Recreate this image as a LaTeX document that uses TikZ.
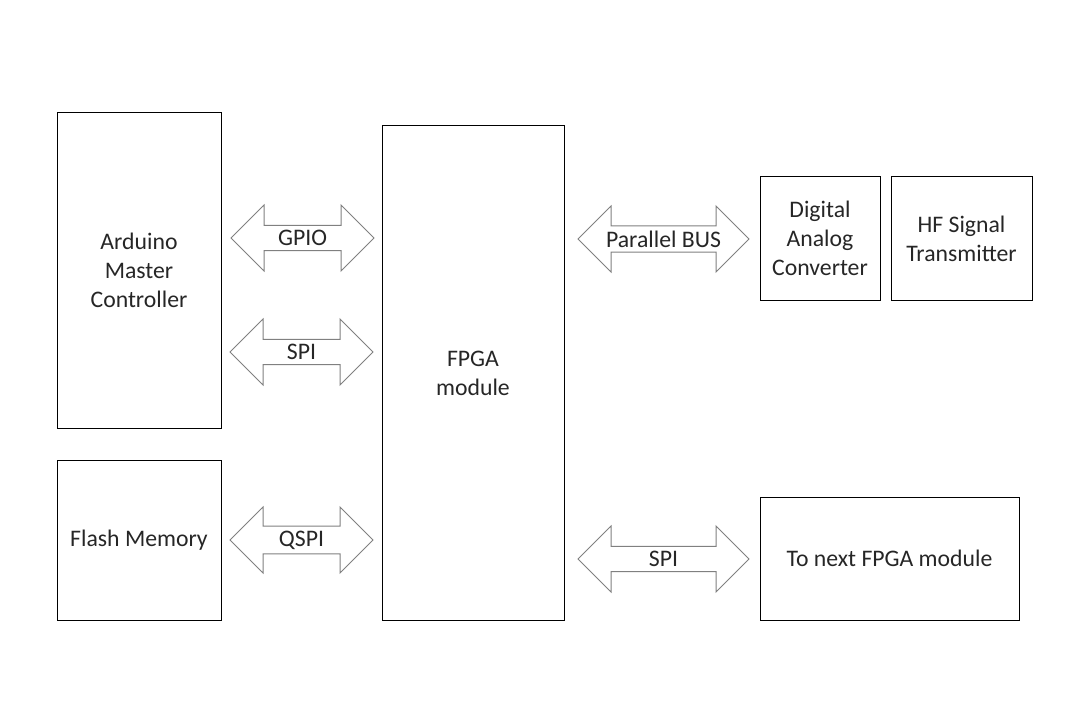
\documentclass[tikz,border=0pt]{standalone}
\usepackage{fontspec}
\setmainfont{Carlito}
\usetikzlibrary{shapes.arrows}
\begin{document}
\begin{tikzpicture}[x=0.75pt,y=-0.75pt,
        block/.style={draw, rectangle, line width=0.75pt, align=center, inner sep=2pt},
        link/.style={draw=gray, fill=white, double arrow, line width=0.75pt,
            minimum width=49.5pt, double arrow head extend=11.6pt, inner sep=1pt},
        font=\fontsize{17.8pt}{21.75pt}\selectfont, text=black!85]
        \useasboundingbox (0,0) rectangle (1066,720);

        \node (ard) [block, minimum width=123pt, minimum height=236.25pt] at (139,270.5) {Arduino\\Master\\Controller};
        \node (flash) [block, minimum width=123pt, minimum height=120pt] at (139,540) {Flash Memory};
        \node (fpga) [block, minimum width=136.5pt, minimum height=370.5pt] at (473,373) {FPGA\\module};
        \node (dac) [block, minimum width=90pt, minimum height=92.25pt] at (820,238.5) {Digital\\Analog\\Converter};
        \node (hf) [block, minimum width=105.75pt, minimum height=92.25pt] at (961.5,238.5) {HF Signal\\Transmitter};
        \node (next) [block, minimum width=194.25pt, minimum height=92.25pt] at (889.5,558.5) {To next FPGA module};

        \node (gpio) [link, minimum height=107.25pt] at (302.5,238) {GPIO};
        \node (spi) [link, minimum height=107.25pt] at (301.5,352) {SPI};
        \node (qspi) [link, minimum height=107.25pt] at (301.5,540) {QSPI};
        \node (pbus) [link, minimum height=128.25pt] at (663.5,239) {Parallel BUS};
        \node (spinext) [link, minimum height=128.25pt] at (663.5,559) {SPI};
    \end{tikzpicture}
\end{document}
